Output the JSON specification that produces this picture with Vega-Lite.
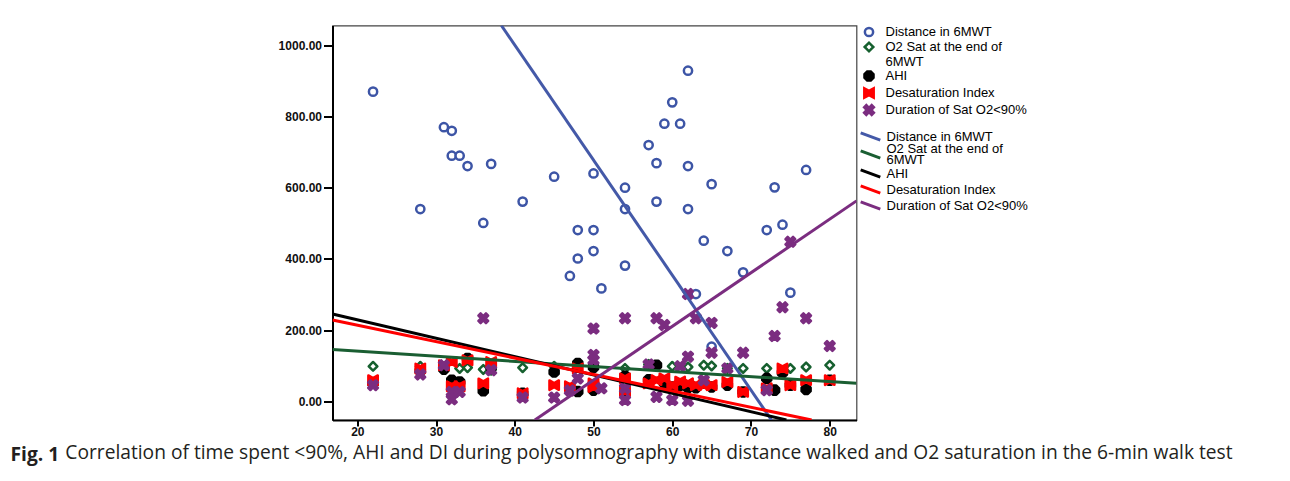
{
  "$schema": "https://vega.github.io/schema/vega-lite/v6.json",
  "width": 524,
  "height": 394.5,
  "autosize": {"type": "none"},
  "padding": {"left": 332.5, "top": 25.5, "right": 433.5, "bottom": 61},
  "background": "white",
  "title": {
    "text": "Fig. 1",
    "subtitle": "\u200d\u00a0\u00a0\u00a0\u00a0\u00a0\u00a0\u00a0\u00a0\u00a0\u00a0\u00a0Correlation of time spent <90%, AHI and DI during polysomnography with distance walked and O2 saturation in the 6-min walk test",
    "orient": "bottom",
    "anchor": "start",
    "frame": "group",
    "dx": -322,
    "offset": 9,
    "font": "Open Sans",
    "fontSize": 19.2,
    "fontWeight": "bold",
    "color": "#231f20",
    "subtitleFont": "Open Sans",
    "subtitleFontSize": 19.2,
    "subtitleFontWeight": "normal",
    "subtitleColor": "#231f20",
    "subtitlePadding": -21
  },
  "config": {
    "view": {"stroke": "#444", "strokeWidth": 1.2},
    "axis": {
      "grid": false,
      "title": null,
      "labelFont": "Liberation Sans",
      "labelFontSize": 12,
      "labelFontWeight": "bold",
      "labelColor": "#111",
      "domainColor": "#000",
      "domainWidth": 2,
      "tickColor": "#000",
      "tickWidth": 2
    },
    "legend": {
      "title": null,
      "orient": "right",
      "offset": 6,
      "padding": 0,
      "labelFont": "Liberation Sans",
      "labelFontSize": 13,
      "labelColor": "#000",
      "labelLimit": 300,
      "rowPadding": -4,
      "labelOffset": 10,
      "gridAlign": "none"
    }
  },
  "datasets": {
    "pts": [
      {"age": 22, "v": 870, "s": "Distance in 6MWT"},
      {"age": 28, "v": 540, "s": "Distance in 6MWT"},
      {"age": 31, "v": 770, "s": "Distance in 6MWT"},
      {"age": 32, "v": 760, "s": "Distance in 6MWT"},
      {"age": 32, "v": 690, "s": "Distance in 6MWT"},
      {"age": 33, "v": 690, "s": "Distance in 6MWT"},
      {"age": 34, "v": 661, "s": "Distance in 6MWT"},
      {"age": 36, "v": 501, "s": "Distance in 6MWT"},
      {"age": 37, "v": 667, "s": "Distance in 6MWT"},
      {"age": 41, "v": 561, "s": "Distance in 6MWT"},
      {"age": 45, "v": 631, "s": "Distance in 6MWT"},
      {"age": 47, "v": 352, "s": "Distance in 6MWT"},
      {"age": 48, "v": 481, "s": "Distance in 6MWT"},
      {"age": 48, "v": 401, "s": "Distance in 6MWT"},
      {"age": 50, "v": 640, "s": "Distance in 6MWT"},
      {"age": 50, "v": 481, "s": "Distance in 6MWT"},
      {"age": 50, "v": 422, "s": "Distance in 6MWT"},
      {"age": 51, "v": 317, "s": "Distance in 6MWT"},
      {"age": 54, "v": 600, "s": "Distance in 6MWT"},
      {"age": 54, "v": 540, "s": "Distance in 6MWT"},
      {"age": 54, "v": 381, "s": "Distance in 6MWT"},
      {"age": 57, "v": 720, "s": "Distance in 6MWT"},
      {"age": 58, "v": 669, "s": "Distance in 6MWT"},
      {"age": 58, "v": 561, "s": "Distance in 6MWT"},
      {"age": 59, "v": 780, "s": "Distance in 6MWT"},
      {"age": 60, "v": 840, "s": "Distance in 6MWT"},
      {"age": 61, "v": 780, "s": "Distance in 6MWT"},
      {"age": 62, "v": 929, "s": "Distance in 6MWT"},
      {"age": 62, "v": 661, "s": "Distance in 6MWT"},
      {"age": 62, "v": 540, "s": "Distance in 6MWT"},
      {"age": 63, "v": 301, "s": "Distance in 6MWT"},
      {"age": 64, "v": 451, "s": "Distance in 6MWT"},
      {"age": 65, "v": 610, "s": "Distance in 6MWT"},
      {"age": 65, "v": 153, "s": "Distance in 6MWT"},
      {"age": 67, "v": 422, "s": "Distance in 6MWT"},
      {"age": 69, "v": 362, "s": "Distance in 6MWT"},
      {"age": 72, "v": 481, "s": "Distance in 6MWT"},
      {"age": 73, "v": 601, "s": "Distance in 6MWT"},
      {"age": 74, "v": 496, "s": "Distance in 6MWT"},
      {"age": 75, "v": 305, "s": "Distance in 6MWT"},
      {"age": 77, "v": 650, "s": "Distance in 6MWT"},

      {"age": 22, "v": 98, "s": "O2 Sat at the end of 6MWT"},
      {"age": 28, "v": 98, "s": "O2 Sat at the end of 6MWT"},
      {"age": 31, "v": 94, "s": "O2 Sat at the end of 6MWT"},
      {"age": 33, "v": 92, "s": "O2 Sat at the end of 6MWT"},
      {"age": 34, "v": 94, "s": "O2 Sat at the end of 6MWT"},
      {"age": 36, "v": 89, "s": "O2 Sat at the end of 6MWT"},
      {"age": 37, "v": 87, "s": "O2 Sat at the end of 6MWT"},
      {"age": 41, "v": 94, "s": "O2 Sat at the end of 6MWT"},
      {"age": 45, "v": 98, "s": "O2 Sat at the end of 6MWT"},
      {"age": 48, "v": 100, "s": "O2 Sat at the end of 6MWT"},
      {"age": 50, "v": 101, "s": "O2 Sat at the end of 6MWT"},
      {"age": 54, "v": 92, "s": "O2 Sat at the end of 6MWT"},
      {"age": 57, "v": 103, "s": "O2 Sat at the end of 6MWT"},
      {"age": 60, "v": 98, "s": "O2 Sat at the end of 6MWT"},
      {"age": 62, "v": 96, "s": "O2 Sat at the end of 6MWT"},
      {"age": 64, "v": 101, "s": "O2 Sat at the end of 6MWT"},
      {"age": 65, "v": 99, "s": "O2 Sat at the end of 6MWT"},
      {"age": 67, "v": 92, "s": "O2 Sat at the end of 6MWT"},
      {"age": 69, "v": 92, "s": "O2 Sat at the end of 6MWT"},
      {"age": 72, "v": 92, "s": "O2 Sat at the end of 6MWT"},
      {"age": 75, "v": 92, "s": "O2 Sat at the end of 6MWT"},
      {"age": 77, "v": 96, "s": "O2 Sat at the end of 6MWT"},
      {"age": 80, "v": 101, "s": "O2 Sat at the end of 6MWT"},

      {"age": 22, "v": 50, "s": "AHI"},
      {"age": 28, "v": 85, "s": "AHI"},
      {"age": 31, "v": 90, "s": "AHI"},
      {"age": 32, "v": 59, "s": "AHI"},
      {"age": 33, "v": 54, "s": "AHI"},
      {"age": 34, "v": 120, "s": "AHI"},
      {"age": 36, "v": 29, "s": "AHI"},
      {"age": 37, "v": 95, "s": "AHI"},
      {"age": 41, "v": 22, "s": "AHI"},
      {"age": 45, "v": 82, "s": "AHI"},
      {"age": 47, "v": 35, "s": "AHI"},
      {"age": 48, "v": 106, "s": "AHI"},
      {"age": 48, "v": 27, "s": "AHI"},
      {"age": 50, "v": 31, "s": "AHI"},
      {"age": 50, "v": 95, "s": "AHI"},
      {"age": 54, "v": 22, "s": "AHI"},
      {"age": 54, "v": 70, "s": "AHI"},
      {"age": 57, "v": 60, "s": "AHI"},
      {"age": 58, "v": 101, "s": "AHI"},
      {"age": 59, "v": 51, "s": "AHI"},
      {"age": 60, "v": 40, "s": "AHI"},
      {"age": 61, "v": 45, "s": "AHI"},
      {"age": 62, "v": 38, "s": "AHI"},
      {"age": 63, "v": 38, "s": "AHI"},
      {"age": 64, "v": 50, "s": "AHI"},
      {"age": 65, "v": 40, "s": "AHI"},
      {"age": 67, "v": 45, "s": "AHI"},
      {"age": 69, "v": 26, "s": "AHI"},
      {"age": 72, "v": 64, "s": "AHI"},
      {"age": 73, "v": 31, "s": "AHI"},
      {"age": 74, "v": 80, "s": "AHI"},
      {"age": 75, "v": 45, "s": "AHI"},
      {"age": 77, "v": 33, "s": "AHI"},
      {"age": 80, "v": 59, "s": "AHI"},

      {"age": 22, "v": 59, "s": "Desaturation Index"},
      {"age": 28, "v": 92, "s": "Desaturation Index"},
      {"age": 31, "v": 101, "s": "Desaturation Index"},
      {"age": 32, "v": 110, "s": "Desaturation Index"},
      {"age": 32, "v": 42, "s": "Desaturation Index"},
      {"age": 33, "v": 42, "s": "Desaturation Index"},
      {"age": 34, "v": 115, "s": "Desaturation Index"},
      {"age": 36, "v": 50, "s": "Desaturation Index"},
      {"age": 37, "v": 110, "s": "Desaturation Index"},
      {"age": 41, "v": 22, "s": "Desaturation Index"},
      {"age": 45, "v": 45, "s": "Desaturation Index"},
      {"age": 47, "v": 42, "s": "Desaturation Index"},
      {"age": 48, "v": 92, "s": "Desaturation Index"},
      {"age": 50, "v": 40, "s": "Desaturation Index"},
      {"age": 50, "v": 50, "s": "Desaturation Index"},
      {"age": 54, "v": 64, "s": "Desaturation Index"},
      {"age": 54, "v": 28, "s": "Desaturation Index"},
      {"age": 57, "v": 50, "s": "Desaturation Index"},
      {"age": 58, "v": 59, "s": "Desaturation Index"},
      {"age": 59, "v": 64, "s": "Desaturation Index"},
      {"age": 60, "v": 45, "s": "Desaturation Index"},
      {"age": 61, "v": 55, "s": "Desaturation Index"},
      {"age": 62, "v": 50, "s": "Desaturation Index"},
      {"age": 63, "v": 45, "s": "Desaturation Index"},
      {"age": 64, "v": 45, "s": "Desaturation Index"},
      {"age": 65, "v": 45, "s": "Desaturation Index"},
      {"age": 67, "v": 54, "s": "Desaturation Index"},
      {"age": 69, "v": 26, "s": "Desaturation Index"},
      {"age": 72, "v": 36, "s": "Desaturation Index"},
      {"age": 74, "v": 92, "s": "Desaturation Index"},
      {"age": 75, "v": 45, "s": "Desaturation Index"},
      {"age": 77, "v": 59, "s": "Desaturation Index"},
      {"age": 80, "v": 59, "s": "Desaturation Index"},

      {"age": 22, "v": 45, "s": "Duration of Sat O2<90%"},
      {"age": 28, "v": 75, "s": "Duration of Sat O2<90%"},
      {"age": 31, "v": 101, "s": "Duration of Sat O2<90%"},
      {"age": 32, "v": 26, "s": "Duration of Sat O2<90%"},
      {"age": 32, "v": 5, "s": "Duration of Sat O2<90%"},
      {"age": 33, "v": 26, "s": "Duration of Sat O2<90%"},
      {"age": 36, "v": 233, "s": "Duration of Sat O2<90%"},
      {"age": 37, "v": 87, "s": "Duration of Sat O2<90%"},
      {"age": 41, "v": 10, "s": "Duration of Sat O2<90%"},
      {"age": 45, "v": 10, "s": "Duration of Sat O2<90%"},
      {"age": 47, "v": 30, "s": "Duration of Sat O2<90%"},
      {"age": 48, "v": 64, "s": "Duration of Sat O2<90%"},
      {"age": 50, "v": 204, "s": "Duration of Sat O2<90%"},
      {"age": 50, "v": 130, "s": "Duration of Sat O2<90%"},
      {"age": 50, "v": 115, "s": "Duration of Sat O2<90%"},
      {"age": 51, "v": 36, "s": "Duration of Sat O2<90%"},
      {"age": 54, "v": 233, "s": "Duration of Sat O2<90%"},
      {"age": 54, "v": 36, "s": "Duration of Sat O2<90%"},
      {"age": 54, "v": 3, "s": "Duration of Sat O2<90%"},
      {"age": 57, "v": 103, "s": "Duration of Sat O2<90%"},
      {"age": 58, "v": 233, "s": "Duration of Sat O2<90%"},
      {"age": 58, "v": 12, "s": "Duration of Sat O2<90%"},
      {"age": 59, "v": 214, "s": "Duration of Sat O2<90%"},
      {"age": 60, "v": 3, "s": "Duration of Sat O2<90%"},
      {"age": 61, "v": 98, "s": "Duration of Sat O2<90%"},
      {"age": 62, "v": 125, "s": "Duration of Sat O2<90%"},
      {"age": 62, "v": 301, "s": "Duration of Sat O2<90%"},
      {"age": 62, "v": 1, "s": "Duration of Sat O2<90%"},
      {"age": 63, "v": 233, "s": "Duration of Sat O2<90%"},
      {"age": 64, "v": 59, "s": "Duration of Sat O2<90%"},
      {"age": 65, "v": 220, "s": "Duration of Sat O2<90%"},
      {"age": 65, "v": 136, "s": "Duration of Sat O2<90%"},
      {"age": 67, "v": 92, "s": "Duration of Sat O2<90%"},
      {"age": 69, "v": 136, "s": "Duration of Sat O2<90%"},
      {"age": 72, "v": 31, "s": "Duration of Sat O2<90%"},
      {"age": 73, "v": 183, "s": "Duration of Sat O2<90%"},
      {"age": 74, "v": 264, "s": "Duration of Sat O2<90%"},
      {"age": 75, "v": 448, "s": "Duration of Sat O2<90%"},
      {"age": 77, "v": 233, "s": "Duration of Sat O2<90%"},
      {"age": 80, "v": 155, "s": "Duration of Sat O2<90%"}
    ],
    "fits": [
      {"age": 38.3, "v": 1056, "f": "Distance in 6MWT (fit)"},
      {"age": 72.6, "v": -53, "f": "Distance in 6MWT (fit)"},
      {"age": 16.85, "v": 145, "f": "O2 Sat at the end of 6MWT (fit)"},
      {"age": 83.4, "v": 50, "f": "O2 Sat at the end of 6MWT (fit)"},
      {"age": 16.85, "v": 245, "f": "AHI (fit)"},
      {"age": 74.5, "v": -53, "f": "AHI (fit)"},
      {"age": 16.85, "v": 228, "f": "Desaturation Index (fit)"},
      {"age": 77.7, "v": -53, "f": "Desaturation Index (fit)"},
      {"age": 42.55, "v": -53, "f": "Duration of Sat O2<90% (fit)"},
      {"age": 83.4, "v": 563, "f": "Duration of Sat O2<90% (fit)"}
    ]
  },
  "layer": [
    {
      "data": {"name": "pts"},
      "mark": {"type": "point", "strokeWidth": 2.5, "strokeJoin": "round", "opacity": 1, "clip": true},
      "encoding": {
        "x": {"field": "age", "type": "quantitative",
              "scale": {"domain": [16.85, 83.4], "nice": false, "zero": false},
              "axis": {"values": [20, 30, 40, 50, 60, 70, 80], "format": "d", "tickSize": 6, "labelPadding": 0}},
        "y": {"field": "v", "type": "quantitative",
              "scale": {"domain": [-53, 1056], "nice": false, "zero": false},
              "axis": {"values": [0, 200, 400, 600, 800, 1000], "format": ".2f", "tickSize": 9, "labelPadding": 2}},
        "shape": {"field": "s", "type": "nominal",
                  "scale": {"domain": ["Distance in 6MWT", "O2 Sat at the end of 6MWT", "AHI", "Desaturation Index", "Duration of Sat O2<90%"],
                            "range": ["circle", "diamond", "M-1,-0.4L-0.4,-1L0.4,-1L1,-0.4L1,0.4L0.4,1L-0.4,1L-1,0.4Z", "M-1,-1L0,-0.45L1,-1L1,1L0,0.45L-1,1Z", "M-1,-0.55L-0.55,-1L0,-0.45L0.55,-1L1,-0.55L0.45,0L1,0.55L0.55,1L0,0.45L-0.55,1L-1,0.55L-0.45,0Z"]},
                  "legend": {"symbolStrokeWidth": 2.5,
                             "labelExpr": "datum.label == 'O2 Sat at the end of 6MWT' ? ['O2 Sat at the end of', '6MWT'] : datum.label"}},
        "fill": {"field": "s", "type": "nominal",
                 "scale": {"domain": ["Distance in 6MWT", "O2 Sat at the end of 6MWT", "AHI", "Desaturation Index", "Duration of Sat O2<90%"],
                           "range": ["white", "white", "#000000", "#ff0000", "#7b2d80"]},
                 "legend": {"symbolStrokeWidth": 2.5,
                            "labelExpr": "datum.label == 'O2 Sat at the end of 6MWT' ? ['O2 Sat at the end of', '6MWT'] : datum.label"}},
        "stroke": {"field": "s", "type": "nominal",
                   "scale": {"domain": ["Distance in 6MWT", "O2 Sat at the end of 6MWT", "AHI", "Desaturation Index", "Duration of Sat O2<90%"],
                             "range": ["#3d55a6", "#16602f", "#000000", "#ff0000", "#7b2d80"]},
                   "legend": {"symbolStrokeWidth": 2.5,
                              "labelExpr": "datum.label == 'O2 Sat at the end of 6MWT' ? ['O2 Sat at the end of', '6MWT'] : datum.label"}},
        "size": {"field": "s", "type": "nominal",
                 "scale": {"domain": ["Distance in 6MWT", "O2 Sat at the end of 6MWT", "AHI", "Desaturation Index", "Duration of Sat O2<90%"],
                           "range": [68, 95, 75, 95, 90]},
                 "legend": {"symbolStrokeWidth": 2.5,
                            "labelExpr": "datum.label == 'O2 Sat at the end of 6MWT' ? ['O2 Sat at the end of', '6MWT'] : datum.label"}}
      }
    },
    {
      "data": {"name": "fits"},
      "mark": {"type": "line", "strokeWidth": 3, "clip": true},
      "encoding": {
        "x": {"field": "age", "type": "quantitative"},
        "y": {"field": "v", "type": "quantitative"},
        "color": {"field": "f", "type": "nominal",
                  "scale": {"domain": ["Distance in 6MWT (fit)", "O2 Sat at the end of 6MWT (fit)", "AHI (fit)", "Desaturation Index (fit)", "Duration of Sat O2<90% (fit)"],
                            "range": ["#4459a8", "#1a5e32", "#000000", "#ff0000", "#7b2d80"]},
                  "legend": {"symbolType": "M-1.6,-0.6L1.6,0.6", "symbolSize": 150, "symbolStrokeWidth": 3, "labelOffset": 8,
                             "encode": {"labels": {"update": {"lineHeight": {"value": 11}, "dy": {"signal": "datum.value == 'O2 Sat at the end of 6MWT (fit)' ? -5.5 : 0"}}}},
                             "labelExpr": "datum.label == 'O2 Sat at the end of 6MWT (fit)' ? ['O2 Sat at the end of', '6MWT'] : replace(datum.label, ' (fit)', '')"}}
      }
    }
  ]
}
